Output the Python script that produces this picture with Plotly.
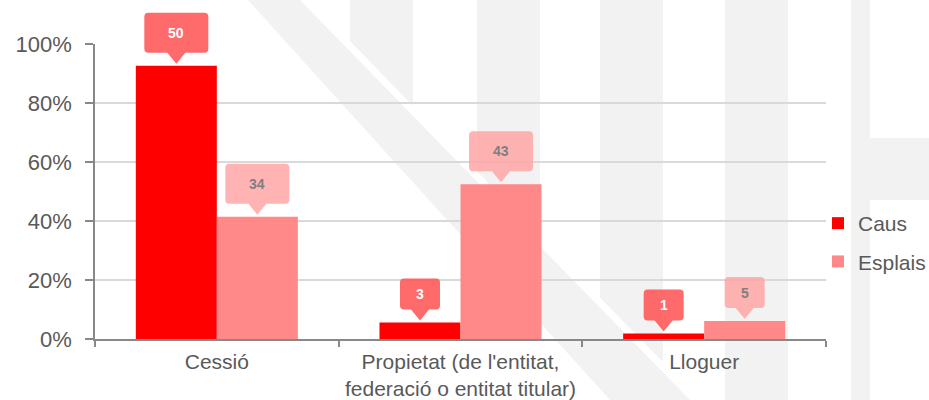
import plotly.graph_objects as go

categories = ["Cessió", "Propietat (de l'entitat,<br>federació o entitat titular)", "Lloguer"]
series_names = ["Caus", "Esplais"]
caus_counts = [50, 3, 1]
esplais_counts = [34, 43, 5]
y_ticks = [0, 20, 40, 60, 80, 100]

# styles
W, H = 929, 400
ML, MR, MT, MB = 95, 103, 44, 61
BARGAP = 0.335
YRANGE = [0, 100]
bar_colors = ["#FF0000", "#FF8989"]
box_colors = ["rgba(255,80,80,0.85)", "rgba(255,160,160,0.8)"]
box_text_colors = ["#FFFFFF", "#7F7F7F"]
FONT = "Liberation Sans, Arial, sans-serif"
TXT = "#595959"
WM = "#F2F2F2"

series_counts = [caus_counts, esplais_counts]
series_pct = [[c / sum(cs) * 100 for c in cs] for cs in series_counts]

fig = go.Figure()
for k, name in enumerate(series_names):
    fig.add_trace(go.Bar(
        x=categories, y=series_pct[k], name=name,
        marker=dict(color=bar_colors[k], line=dict(width=0)),
        legendgroup=name, hoverinfo="skip",
    ))

# geometry helpers for callouts (pixel offsets from bar centre / bar top)
plot_w = W - ML - MR
plot_h = H - MT - MB
bar_w = plot_w / len(categories) * (1 - BARGAP) / len(series_names)
offsets = [(k - (len(series_names) - 1) / 2) * bar_w for k in range(len(series_names))]

shapes = []
annotations = []

def callout_path(dx, w, h, g=2, th=11, tw=18, r=4):
    y0 = g + th
    y1 = y0 + h
    xl, xr = dx - w / 2, dx + w / 2
    pts = [
        f"M{xl + r},{y0}", f"L{dx - tw / 2},{y0}", f"L{dx},{g}", f"L{dx + tw / 2},{y0}",
        f"L{xr - r},{y0}", f"Q{xr},{y0} {xr},{y0 + r}", f"L{xr},{y1 - r}",
        f"Q{xr},{y1} {xr - r},{y1}", f"L{xl + r},{y1}", f"Q{xl},{y1} {xl},{y1 - r}",
        f"L{xl},{y0 + r}", f"Q{xl},{y0} {xl + r},{y0}", "Z",
    ]
    return " ".join(pts), y0 + h / 2

for k in range(len(series_names)):
    for i, cat in enumerate(categories):
        val = series_pct[k][i]
        cnt = series_counts[k][i]
        w, h = (64, 40) if cnt >= 10 else (40, 31)
        path, ymid = callout_path(offsets[k], w, h)
        # yref paper (range fraction) so the callout is not clipped at the plot top
        yfrac = (val - YRANGE[0]) / (YRANGE[1] - YRANGE[0])
        shapes.append(dict(
            type="path", xref="x", yref="paper", xsizemode="pixel", ysizemode="pixel",
            xanchor=i, yanchor=yfrac, path=path, fillcolor=box_colors[k],
            line=dict(width=0), layer="above",
        ))
        annotations.append(dict(
            x=cat, y=val, xref="x", yref="y", text=f"<b>{cnt}</b>", showarrow=False,
            xshift=offsets[k], yshift=ymid, yanchor="middle", xanchor="center",
            font=dict(family=FONT, size=14, color=box_text_colors[k]),
        ))

# faint watermark (decorative) in figure pixel coords -> paper coords
def px(x):
    return (x - ML) / plot_w
def py(y):
    return (H - MB - y) / plot_h

def poly(points):
    s = "M" + " L".join(f"{px(x)},{py(y)}" for x, y in points) + " Z"
    return dict(type="path", xref="paper", yref="paper", path=s,
                fillcolor=WM, line=dict(width=0), layer="below")

shapes.insert(0, poly([(248, 0), (300, 0), (690, 400), (610, 400)]))
for x0, x1 in [(350, 413), (477, 540), (600, 663), (725, 788), (851, 870)]:
    yb0 = min(400, (x0 - 310) / 0.975)
    yb1 = min(400, (x1 - 310) / 0.975)
    shapes.insert(0, poly([(x0, 0), (x1, 0), (x1, yb1), (x0, yb0)]))
shapes.insert(0, poly([(870, 138), (929, 138), (929, 200), (870, 200)]))

fig.update_layout(
    width=W, height=H,
    margin=dict(l=ML, r=MR, t=MT, b=MB, pad=0, autoexpand=False),
    paper_bgcolor="white", plot_bgcolor="rgba(0,0,0,0)",
    barmode="group", bargap=BARGAP, bargroupgap=0,
    font=dict(family=FONT, size=21, color=TXT),
    showlegend=True,
    legend=dict(
        xref="container", yref="container",
        x=818 / W, xanchor="left",
        y=1 - 203 / H, yanchor="top",
        traceorder="grouped", tracegroupgap=8,
        font=dict(family=FONT, size=21, color=TXT),
        bgcolor="rgba(0,0,0,0)", borderwidth=0,
    ),
    xaxis=dict(
        type="category", showline=True, linecolor="#888888", linewidth=1.5,
        ticks="outside", tickson="boundaries", ticklen=6, tickcolor="#888888", tickwidth=1.5,
        showgrid=False, tickfont=dict(family=FONT, size=21, color=TXT),
        ticklabelstandoff=3, automargin=False, fixedrange=True,
    ),
    yaxis=dict(
        range=YRANGE, tickvals=y_ticks, ticktext=[f"{t}%" for t in y_ticks],
        showline=True, linecolor="#888888", linewidth=1.5,
        ticks="outside", ticklen=8, tickcolor="#888888", tickwidth=1.5,
        showgrid=True, gridcolor="#D9D9D9", gridwidth=1.5, zeroline=False,
        tickfont=dict(family=FONT, size=22, color=TXT), ticklabelstandoff=9,
        automargin=False, fixedrange=True,
    ),
    shapes=shapes,
    annotations=annotations,
)

fig.write_html(
    "out.html",
    config={"displayModeBar": False},
    post_script="document.body.style.margin='0';document.body.style.overflow='hidden';",
)
